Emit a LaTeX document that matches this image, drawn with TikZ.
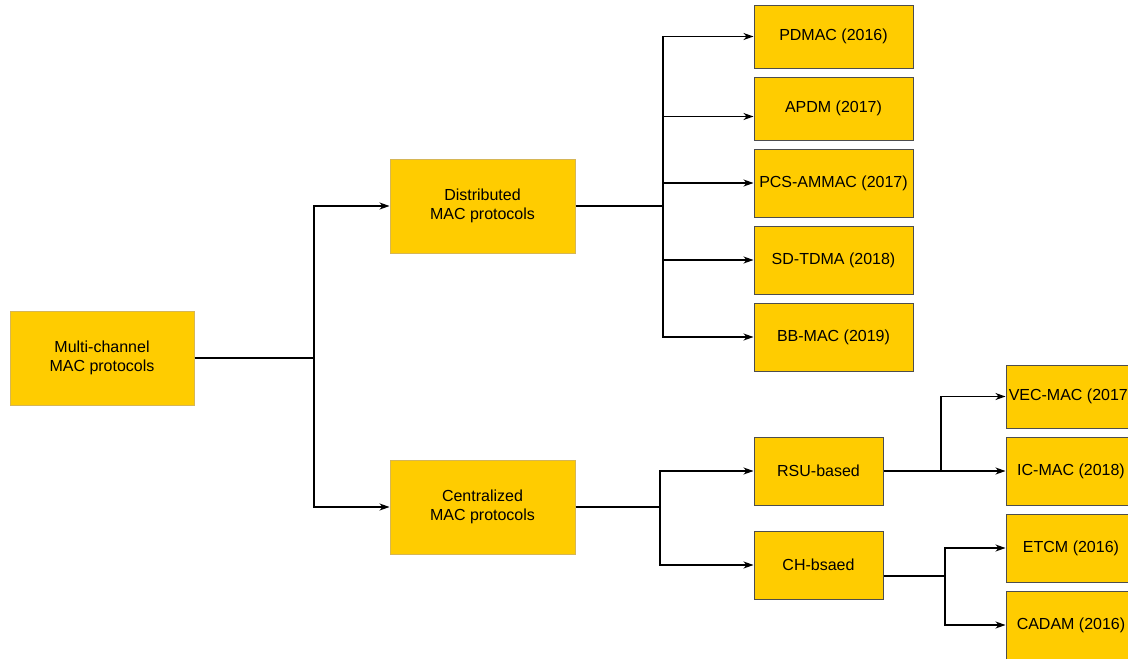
\documentclass[tikz,border=0pt]{standalone}
\usepackage{fontspec}
\setmainfont{Liberation Sans}
\usetikzlibrary{arrows.meta}
\definecolor{boxfill}{HTML}{FFCC00}
\definecolor{boxedge}{HTML}{D6B656}
\definecolor{leafedge}{HTML}{4D4D4D}

\begin{document}
\begin{tikzpicture}[x=1pt,y=-1pt,
    box/.style={rectangle,draw=boxedge,fill=boxfill,line width=1pt,inner sep=0pt,align=center,font=\fontsize{16}{19}\selectfont},
    leaf/.style={box,draw=leafedge},
    link/.style={line width=1.2pt},
    arr/.style={link,-{Stealth[length=10pt,width=7pt,inset=3pt]}}]
    \clip (0,0) rectangle (1128,659);

    \node at (102,358) [box,minimum width=184,minimum height=94] (c100) {Multi-channel\\MAC protocols};
    \node at (482.5,206) [box,minimum width=185,minimum height=94] (c200) {Distributed\\MAC protocols};
    \node at (482.5,507) [box,minimum width=185,minimum height=94] (c300) {Centralized\\MAC protocols};

    \node at (833.5,36.5) [leaf,minimum width=159,minimum height=63] (c210) {PDMAC (2016)};
    \node at (833.5,108.5) [leaf,minimum width=159,minimum height=63] (c220) {APDM (2017)};
    \node at (833.5,183) [leaf,minimum width=159,minimum height=68] (c230) {PCS-AMMAC (2017)};
    \node at (833.5,260) [leaf,minimum width=159,minimum height=68] (c240) {SD-TDMA (2018)};
    \node at (833.5,337) [leaf,minimum width=159,minimum height=68] (c250) {BB-MAC (2019)};

    \node at (818.5,471) [leaf,minimum width=129,minimum height=68] (c310) {RSU-based};
    \node at (818.5,565) [leaf,minimum width=129,minimum height=68] (c320) {CH-bsaed};

    \node at (1071,396.5) [leaf,minimum width=130,minimum height=63] (c311) {VEC-MAC (2017)};
    \node at (1071,471) [leaf,minimum width=130,minimum height=68] (c312) {IC-MAC (2018)};
    \node at (1071,548) [leaf,minimum width=130,minimum height=68] (c321) {ETCM (2016)};
    \node at (1071,625) [leaf,minimum width=130,minimum height=68] (c322) {CADAM (2016)};

    \coordinate (j100) at (314,358);
    \coordinate (j200) at (663,206);
    \coordinate (j300) at (660,507);
    \coordinate (j310) at (941,471);
    \coordinate (j320) at (945,576);

    \draw[link] (c100) -- (j100);
    \draw[arr] (j100) |- (c200);
    \draw[arr] (j100) |- (c300);

    \draw[link] (c200) -- (j200);
    \draw[arr] (j200) |- (c210);
    \draw[arr] (j200) |- ([yshift=-8pt]c220.west);
    \draw[arr] (j200) |- (c230);
    \draw[arr] (j200) |- (c240);
    \draw[arr] (j200) |- (c250);

    \draw[link] (c300) -- (j300);
    \draw[arr] (j300) |- (c310);
    \draw[arr] (j300) |- (c320);

    \draw[link] (c310) -- (j310);
    \draw[arr] (j310) |- (c311);
    \draw[arr] (j310) -- (c312);

    \draw[link] ([yshift=-11pt]c320.east) -- (j320);
    \draw[arr] (j320) |- (c321);
    \draw[arr] (j320) |- (c322);
\end{tikzpicture}
\end{document}
